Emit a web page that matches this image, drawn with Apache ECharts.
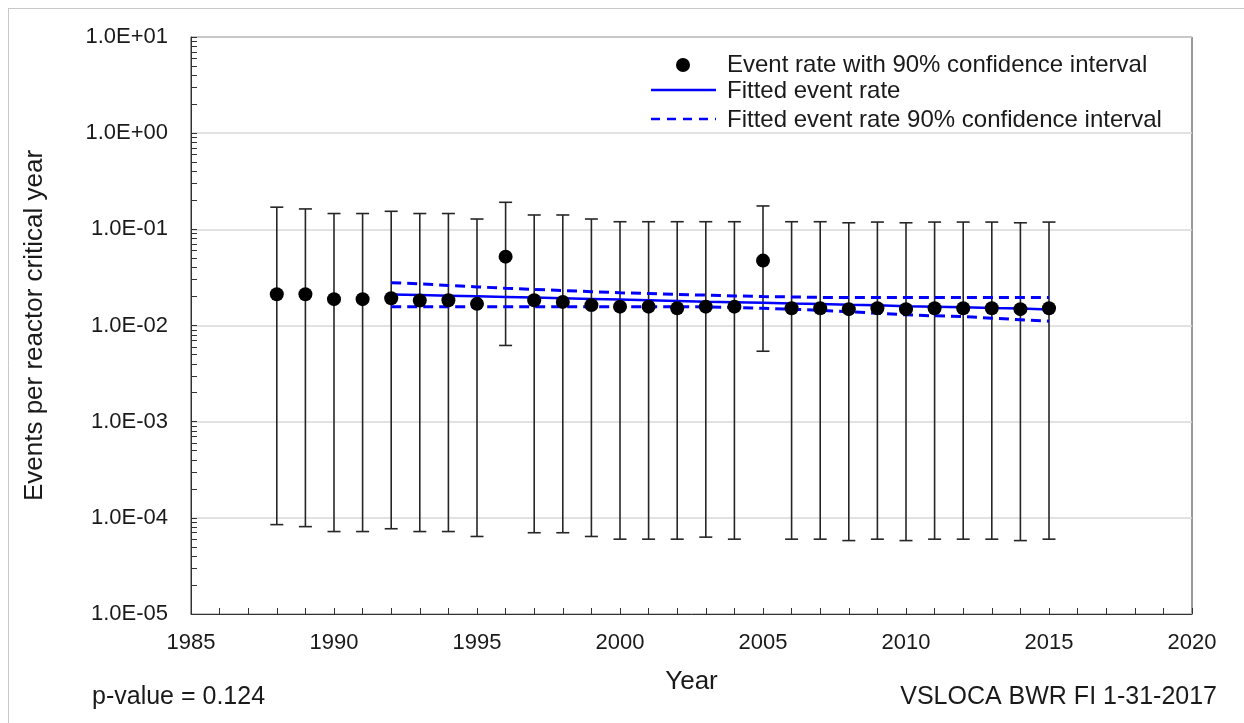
<!DOCTYPE html>
<html>
<head>
<meta charset="utf-8">
<script src="https://cdn.jsdelivr.net/npm/echarts@6/dist/echarts.min.js"></script>
<style>
  html, body { margin: 0; padding: 0; background: #fff; }
  #chart { width: 1244px; height: 723px; }
</style>
</head>
<body>
<div id="chart"></div>
<script>
// Yearly event rates with 90% confidence bounds
const years = [1988, 1989, 1990, 1991, 1992, 1993, 1994, 1995, 1996, 1997, 1998, 1999, 2000, 2001,
               2002, 2003, 2004, 2005, 2006, 2007, 2008, 2009, 2010, 2011, 2012, 2013, 2014, 2015];
const rate = [0.0211, 0.0211, 0.0188, 0.0188, 0.0192, 0.0182, 0.0183, 0.0168, 0.0520, 0.0183,
              0.0176, 0.0163, 0.0157, 0.0157, 0.0151, 0.0157, 0.0157, 0.0473, 0.0151, 0.0151,
              0.0148, 0.0151, 0.0148, 0.0151, 0.0151, 0.0151, 0.0148, 0.0151];
const upper = [0.170, 0.163, 0.146, 0.146, 0.154, 0.146, 0.146, 0.128, 0.191, 0.141,
               0.141, 0.128, 0.120, 0.120, 0.120, 0.120, 0.120, 0.175, 0.120, 0.120,
               0.117, 0.119, 0.117, 0.119, 0.119, 0.119, 0.117, 0.119];
const lower = [8.5e-5, 8.1e-5, 7.2e-5, 7.2e-5, 7.7e-5, 7.2e-5, 7.2e-5, 6.4e-5, 6.2e-3, 7.0e-5,
               7.0e-5, 6.4e-5, 6.0e-5, 6.0e-5, 6.0e-5, 6.3e-5, 6.0e-5, 5.4e-3, 6.0e-5, 6.0e-5,
               5.8e-5, 6.0e-5, 5.8e-5, 6.0e-5, 6.0e-5, 6.0e-5, 5.8e-5, 6.0e-5];

// Fitted trend and its 90% confidence band
const fitYears = [1992, 1993, 1994, 1995, 1996, 1997, 1998, 1999, 2000, 2001, 2002, 2003,
                  2004, 2005, 2006, 2007, 2008, 2009, 2010, 2011, 2012, 2013, 2014, 2015];
const fitRate = [0.0210, 0.0207, 0.0204, 0.0201, 0.0198, 0.0195, 0.0192, 0.0189, 0.0186, 0.0183,
                 0.0180, 0.0177, 0.0175, 0.0172, 0.0169, 0.0167, 0.0164, 0.0162, 0.0159, 0.0157,
                 0.0155, 0.0152, 0.0150, 0.0147];
const fitUpper = [0.0279, 0.0271, 0.0261, 0.0252, 0.0244, 0.0237, 0.0231, 0.0225, 0.0219, 0.0215,
                  0.0210, 0.0207, 0.0203, 0.0200, 0.0198, 0.0196, 0.0195, 0.0195, 0.0195, 0.0195,
                  0.0195, 0.0195, 0.0195, 0.0195];
const fitLower = [0.0157, 0.0157, 0.0157, 0.0157, 0.0157, 0.0157, 0.0157, 0.0157, 0.0157, 0.0157,
                  0.0157, 0.0156, 0.0154, 0.0151, 0.0148, 0.0144, 0.0139, 0.0134, 0.0129, 0.0126,
                  0.0124, 0.0119, 0.0115, 0.0111];

// Axis ranges and labels
const xRange = [1985, 2020];
const yRange = [1e-5, 10];
const legendNames = ['Event rate with 90% confidence interval', 'Fitted event rate',
                     'Fitted event rate 90% confidence interval'];
const xTitle = 'Year';
const yTitle = 'Events per reactor critical year';
const footLeft = 'p-value = 0.124';
const footRight = 'VSLOCA BWR FI 1-31-2017';

const FONT = 'Liberation Sans, Arial, sans-serif';
const TEXT = '#1a1a1a';
const AXIS = '#333';
const BLUE = '#0000ff';

function sci(v) {
  const e = Math.round(Math.log10(v));
  const m = v / Math.pow(10, e);
  return m.toFixed(1) + 'E' + (e < 0 ? '-' : '+') + String(Math.abs(e)).padStart(2, '0');
}

// log-cycle tick marks (1..9 per decade), expressed as exponents for a linear helper axis
const logLo = Math.round(Math.log10(yRange[0]));
const logHi = Math.round(Math.log10(yRange[1]));
const cycleTicks = [];
for (let d = logLo; d < logHi; d++) {
  for (let k = 1; k <= 9; k++) cycleTicks.push(d + Math.log10(k));
}
cycleTicks.push(logHi);

const chart = echarts.init(document.getElementById('chart'), null, { renderer: 'canvas' });

const GRID = { left: 191, top: 37, right: 52, bottom: 109 };

chart.setOption({
  animation: false,
  backgroundColor: '#fff',
  grid: Object.assign({ show: true, borderColor: AXIS, borderWidth: 1, backgroundColor: 'transparent' }, GRID),
  xAxis: {
    type: 'value',
    min: xRange[0], max: xRange[1], interval: 5,
    name: xTitle, nameLocation: 'middle', nameGap: 55,
    nameTextStyle: { fontFamily: FONT, fontSize: 26, color: TEXT },
    axisLine: { onZero: false, lineStyle: { color: AXIS, width: 1 } },
    axisTick: { inside: true, length: 6, lineStyle: { color: AXIS } },
    minorTick: { show: true, splitNumber: 5, length: 6, lineStyle: { color: AXIS } },
    axisLabel: { fontFamily: FONT, fontSize: 22, color: TEXT, margin: 18, formatter: v => String(v) },
    splitLine: { show: false }
  },
  yAxis: [{
    type: 'log', logBase: 10, min: yRange[0], max: yRange[1],
    name: yTitle, nameLocation: 'middle', nameGap: 143, nameRotate: 90,
    nameTextStyle: { fontFamily: FONT, fontSize: 26, color: TEXT },
    axisLine: { lineStyle: { color: AXIS, width: 1 } },
    axisTick: { show: false },
    axisLabel: { fontFamily: FONT, fontSize: 22, color: TEXT, margin: 23, formatter: sci },
    splitLine: { show: true, lineStyle: { color: '#d9d9d9', width: 1.5 } }
  }, {
    // helper axis carrying the log-cycle tick marks
    type: 'value', min: logLo, max: logHi, position: 'left',
    axisLine: { show: false, onZero: false },
    axisTick: { show: true, inside: true, length: 6, customValues: cycleTicks, lineStyle: { color: AXIS } },
    axisLabel: { show: false },
    splitLine: { show: false }
  }],
  series: [
    {
      name: 'errorbars',
      type: 'custom',
      xAxisIndex: 0, yAxisIndex: 0,
      data: years.map((y, i) => [y, lower[i], upper[i]]),
      encode: { x: 0, y: [1, 2] },
      z: 2,
      renderItem: function (params, api) {
        const x = api.value(0);
        const top = api.coord([x, api.value(2)]);
        const bot = api.coord([x, api.value(1)]);
        const hw = 6.5;
        const style = { stroke: '#262626', lineWidth: 1.6 };
        return {
          type: 'group',
          children: [
            { type: 'line', shape: { x1: top[0], y1: top[1], x2: bot[0], y2: bot[1] }, style: style },
            { type: 'line', shape: { x1: top[0] - hw, y1: top[1], x2: top[0] + hw, y2: top[1] }, style: style },
            { type: 'line', shape: { x1: bot[0] - hw, y1: bot[1], x2: bot[0] + hw, y2: bot[1] }, style: style }
          ]
        };
      }
    },
    {
      name: legendNames[2] + ' upper',
      type: 'line', showSymbol: false, symbol: 'none', z: 3,
      data: fitYears.map((y, i) => [y, fitUpper[i]]),
      lineStyle: { color: BLUE, width: 3, type: [10, 6] }
    },
    {
      name: legendNames[2] + ' lower',
      type: 'line', showSymbol: false, symbol: 'none', z: 3,
      data: fitYears.map((y, i) => [y, fitLower[i]]),
      lineStyle: { color: BLUE, width: 3, type: [10, 6] }
    },
    {
      name: legendNames[1],
      type: 'line', showSymbol: false, symbol: 'none', z: 3,
      data: fitYears.map((y, i) => [y, fitRate[i]]),
      lineStyle: { color: BLUE, width: 2.5 }
    },
    {
      name: legendNames[0],
      type: 'scatter', z: 4,
      symbol: 'circle', symbolSize: 14,
      itemStyle: { color: '#000', opacity: 1 },
      data: years.map((y, i) => [y, rate[i]])
    }
  ],
  graphic: [
    // outer frame lines
    { type: 'line', shape: { x1: 8, y1: 8.5, x2: 1244, y2: 8.5 }, style: { stroke: '#c8c8c8', lineWidth: 1 }, silent: true },
    { type: 'line', shape: { x1: 8.5, y1: 8, x2: 8.5, y2: 723 }, style: { stroke: '#c8c8c8', lineWidth: 1 }, silent: true },
    // legend
    { type: 'circle', shape: { cx: 683, cy: 65, r: 7 }, style: { fill: '#000' }, z: 10 },
    { type: 'text', x: 727, y: 65, style: { text: legendNames[0], font: '24px ' + FONT, fill: TEXT, verticalAlign: 'middle' }, z: 10 },
    { type: 'line', shape: { x1: 651, y1: 90, x2: 716, y2: 90 }, style: { stroke: BLUE, lineWidth: 2.5 }, z: 10 },
    { type: 'text', x: 727, y: 91, style: { text: legendNames[1], font: '24px ' + FONT, fill: TEXT, verticalAlign: 'middle' }, z: 10 },
    { type: 'line', shape: { x1: 651, y1: 119, x2: 716, y2: 119 }, style: { stroke: BLUE, lineWidth: 2.5, lineDash: [9, 7] }, z: 10 },
    { type: 'text', x: 727, y: 120, style: { text: legendNames[2], font: '24px ' + FONT, fill: TEXT, verticalAlign: 'middle' }, z: 10 },
    // footer notes
    { type: 'text', x: 92, y: 697, style: { text: footLeft, font: '25px ' + FONT, fill: TEXT, verticalAlign: 'middle' } },
    { type: 'text', x: 1217, y: 697, style: { text: footRight, font: '25px ' + FONT, fill: TEXT, align: 'right', verticalAlign: 'middle' } }
  ]
});
</script>
</body>
</html>
